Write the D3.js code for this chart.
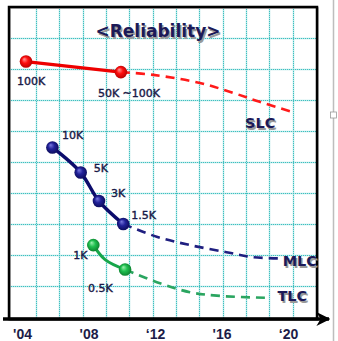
<!DOCTYPE html>
<html><head><meta charset="utf-8">
<script src="https://cdn.jsdelivr.net/npm/d3@7"></script>
<style>
html,body{margin:0;padding:0;background:#fff;}
svg{display:block;}
</style></head>
<body>
<svg id="chart" width="338" height="341"></svg>
<script>
// ---- data (years on x, relative reliability index on y) ----
const tickYears = [2004, 2008, 2012, 2016, 2020];
const tickLabels = ["'04", "'08", "\u201812", "'16", "\u201820"];
const gridRows = [1, 2, 3, 4, 5, 6, 7, 8, 9];
const gridCols = [1, 2, 3, 4, 5, 6, 7, 8, 9, 10, 11, 12];

const slcYears = [2004.24, 2009.95];
const slcValues = [8.24, 7.90];
const slcLabels = ["100K", "50K ~100K"];
const slcTrendYears = [2009.95, 2011.9, 2014.7, 2016.7, 2018.3, 2020.3];
const slcTrendValues = [7.90, 7.81, 7.55, 7.23, 6.94, 6.61];

const mlcYears = [2005.83, 2007.53, 2008.63, 2010.09];
const mlcValues = [5.47, 4.66, 3.74, 3.00];
const mlcLabels = ["10K", "5K", "3K", "1.5K"];
const mlcTrendYears = [2010.09, 2012.1, 2014.1, 2016.3, 2017.9, 2019.5];
const mlcTrendValues = [3.00, 2.59, 2.32, 2.09, 1.93, 1.89];

const tlcYears = [2008.29, 2010.2];
const tlcValues = [2.32, 1.53];
const tlcLabels = ["1K", "0.5K"];
const tlcPathYears = [2008.29, 2009.0, 2010.2];
const tlcPathValues = [2.32, 1.85, 1.53];
const tlcTrendYears = [2010.2, 2012.3, 2014.1, 2015.9, 2018.7];
const tlcTrendValues = [1.53, 1.09, 0.80, 0.68, 0.62];

const seriesNames = ["SLC", "MLC", "TLC"];
const title = "<Reliability>";

// ---- layout ----
const svg = d3.select("#chart");
const frame = {l: 9, t: 7, r: 317, b: 319};
const x = d3.scaleLinear().domain([2004, 2020]).range([22, 288]);
const y = d3.scaleLinear().domain([0, 10]).range([317, 7]);
const gx = d3.scaleLinear().domain([0, 13]).range([12.67, 316]);

const defs = svg.append("defs");
function grad(id, light, mid, dark) {
  const g = defs.append("radialGradient").attr("id", id)
    .attr("cx", "50%").attr("cy", "50%").attr("r", "55%")
    .attr("fx", "35%").attr("fy", "30%");
  g.append("stop").attr("offset", "0%").attr("stop-color", light);
  g.append("stop").attr("offset", "45%").attr("stop-color", mid);
  g.append("stop").attr("offset", "100%").attr("stop-color", dark);
}
grad("gRed", "#ff9a9a", "#ff1010", "#b00000");
grad("gBlue", "#7a7ae0", "#22229a", "#0a0a55");
grad("gGreen", "#9ef0b0", "#20c050", "#0a7a2a");
const arrow = defs.append("marker").attr("id", "arr")
  .attr("viewBox", "0 0 10 10").attr("refX", 9).attr("refY", 5)
  .attr("markerWidth", 4).attr("markerHeight", 4).attr("orient", "auto")
  .attr("markerUnits", "strokeWidth");
arrow.append("path").attr("d", "M0,0 L10,5 L0,10 L3,5 Z").attr("fill", "#000");

// right slide guide line
svg.append("line").attr("x1", 333.5).attr("x2", 333.5).attr("y1", 0).attr("y2", 341)
  .attr("stroke", "#bdbdbd").attr("stroke-width", 1.5);
svg.append("rect").attr("x", 330.5).attr("y", 112).attr("width", 6).attr("height", 6)
  .attr("fill", "#fff").attr("stroke", "#999").attr("stroke-width", 0.8);

// grid (light teal base + darker teal dots)
function gridLayer(color, w, dash) {
  svg.append("g").selectAll("line").data(gridRows).join("line")
    .attr("x1", frame.l).attr("x2", frame.r)
    .attr("y1", d => Math.round(y(d)) + 0.5).attr("y2", d => Math.round(y(d)) + 0.5)
    .attr("stroke", color).attr("stroke-width", w).attr("stroke-dasharray", dash);
  svg.append("g").selectAll("line").data(gridCols).join("line")
    .attr("x1", d => Math.round(gx(d)) + 0.5).attr("x2", d => Math.round(gx(d)) + 0.5)
    .attr("y1", frame.t).attr("y2", frame.b)
    .attr("stroke", color).attr("stroke-width", w).attr("stroke-dasharray", dash);
}
gridLayer("#b4e8e8", 1.5, null);
gridLayer("#3fbfbf", 1, "1,1");

// frame
svg.append("rect").attr("x", frame.l + 1).attr("y", frame.t + 1)
  .attr("width", frame.r - frame.l).attr("height", frame.b - frame.t)
  .attr("fill", "none").attr("stroke", "#aaa").attr("stroke-width", 1.5);
svg.append("rect").attr("x", frame.l).attr("y", frame.t)
  .attr("width", frame.r - frame.l).attr("height", frame.b - frame.t)
  .attr("fill", "none").attr("stroke", "#000").attr("stroke-width", 2.5);

// x axis
svg.append("line").attr("x1", 3).attr("x2", 329).attr("y1", frame.b).attr("y2", frame.b)
  .attr("stroke", "#000").attr("stroke-width", 3.5).attr("marker-end", "url(#arr)");
const xAxis = d3.axisBottom(x).tickValues(tickYears)
  .tickFormat((d, i) => tickLabels[i]).tickSize(0).tickPadding(0);
const ax = svg.append("g").attr("transform", `translate(0,${frame.b})`).call(xAxis);
ax.select(".domain").remove();
ax.selectAll("text").attr("y", 19.5).attr("dy", 0)
  .attr("font-family", "Liberation Sans, Arial, sans-serif")
  .attr("font-weight", "bold").attr("font-size", 14).attr("fill", "#1c1c48");

// lines
const lineGen = d3.line().x(d => x(d[0])).y(d => y(d[1]));
const zip = (a, b) => a.map((v, i) => [v, b[i]]);
function drawLine(pts, color, w, dash, curve) {
  svg.append("path").datum(pts)
    .attr("d", lineGen.curve(curve || d3.curveLinear))
    .attr("fill", "none").attr("stroke", color).attr("stroke-width", w)
    .attr("stroke-dasharray", dash || null).attr("stroke-linecap", "butt");
}
drawLine(zip(slcTrendYears, slcTrendValues), "#ff1a1a", 2.6, "9,6", d3.curveCatmullRom);
drawLine(zip(mlcTrendYears, mlcTrendValues), "#1f1f80", 2.6, "9,6", d3.curveCatmullRom);
drawLine(zip(tlcTrendYears, tlcTrendValues), "#2aa560", 2.6, "9,6", d3.curveCatmullRom);
drawLine(zip(slcYears, slcValues), "#ee0000", 3.2);
drawLine(zip(mlcYears, mlcValues), "#0c0c6c", 3.5, null, d3.curveCatmullRom);
drawLine(zip(tlcPathYears, tlcPathValues), "#17a64a", 3, null, d3.curveCatmullRom);

// markers
function drawPoints(xs, vs, fill) {
  svg.append("g").selectAll("circle").data(zip(xs, vs)).join("circle")
    .attr("cx", d => x(d[0])).attr("cy", d => y(d[1])).attr("r", 6.3)
    .attr("fill", `url(#${fill})`);
}
drawPoints(slcYears, slcValues, "gRed");
drawPoints(mlcYears, mlcValues, "gBlue");
drawPoints(tlcYears, tlcValues, "gGreen");

// point labels (offsets are layout only)
const labelOffsets = {
  "100K": [-9, 23.5], "50K ~100K": [-23, 25],
  "10K": [9.5, -8], "5K": [13, -1], "3K": [12, -4], "1.5K": [8, -5],
  "1K": [-20, 14], "0.5K": [-37, 22]
};
function drawLabels(xs, vs, labels) {
  svg.append("g").selectAll("text").data(labels).join("text")
    .attr("x", (d, i) => x(xs[i]) + labelOffsets[d][0])
    .attr("y", (d, i) => y(vs[i]) + labelOffsets[d][1])
    .attr("font-family", "DejaVu Sans, Verdana, sans-serif")
    .attr("font-size", 11).attr("fill", "#1a1a48")
    .attr("stroke", "#1a1a48").attr("stroke-width", 0.4)
    .text(d => d);
}
drawLabels(slcYears, slcValues, slcLabels);
drawLabels(mlcYears, mlcValues, mlcLabels);
drawLabels(tlcYears, tlcValues, tlcLabels);

// series names with shadow
function shadowText(txt, tx, ty, size, anchor) {
  const g = svg.append("g").attr("font-family", "DejaVu Sans, Verdana, sans-serif")
    .attr("font-weight", "bold").attr("font-size", size).attr("text-anchor", anchor || "start");
  g.append("text").attr("x", tx + 1.5).attr("y", ty + 1.5).attr("fill", "#9a9a9a").text(txt);
  g.append("text").attr("x", tx).attr("y", ty).attr("fill", "#1c1a58").text(txt);
}
const ends = [
  [slcTrendYears[slcTrendYears.length - 1], slcTrendValues[slcTrendValues.length - 1], -48, 16],
  [mlcTrendYears[mlcTrendYears.length - 1], mlcTrendValues[mlcTrendValues.length - 1], 3, 8],
  [tlcTrendYears[tlcTrendYears.length - 1], tlcTrendValues[tlcTrendValues.length - 1], 11, 3.5]
];
seriesNames.forEach((n, i) => {
  const e = ends[i];
  shadowText(n, x(e[0]) + e[2], y(e[1]) + e[3], 14.5);
});

// title
shadowText(title, 158, 37, 17, "middle");
</script>
</body></html>
